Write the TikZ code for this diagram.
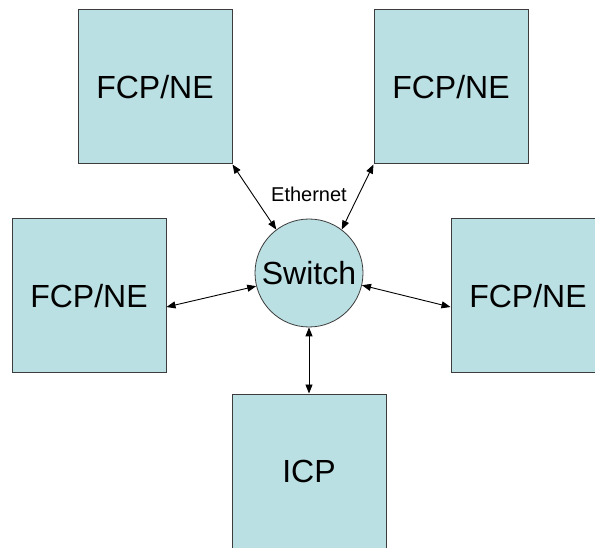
\documentclass[tikz,border=0pt]{standalone}
\usepackage{fontspec}
\setmainfont{Liberation Sans}
\usetikzlibrary{arrows.meta}
\definecolor{boxfill}{RGB}{187,224,227}
\definecolor{boxline}{RGB}{60,60,60}
\tikzset{
  unit/.style={draw=boxline, line width=1pt, fill=boxfill, rectangle, minimum width=154pt, minimum height=154pt, inner sep=0pt, font=\fontsize{32}{38}\selectfont},
  hub/.style={draw=boxline, line width=0.8pt, fill=boxfill, circle, minimum size=108pt, inner sep=0pt, font=\fontsize{32}{38}\selectfont},
  link/.style={line width=0.9pt, {Triangle[length=9pt,width=7pt]}-{Triangle[length=9pt,width=7pt]}},
}
\begin{document}
\begin{tikzpicture}[x=1pt,y=-1pt]
\useasboundingbox (0,0) rectangle (595,548);
\clip (0,0) rectangle (595,548);
\fill[white] (0,0) rectangle (595,548);
\node[unit] (tl) at (155,87) {FCP/NE};
\node[unit] (tr) at (451,87) {FCP/NE};
\node[unit] (l) at (89,296) {FCP/NE};
\node[unit] (r) at (528,296) {FCP/NE};
\node[unit] (b) at (309,471) {ICP};
\node[hub] (sw) at (309,273) {Switch};
\node[font=\fontsize{20}{24}\selectfont] (eth) at (309,194) {Ethernet};
\draw[link] (tl.south east) -- (sw.127);
\draw[link] (tr.south west) -- (sw.53);
\draw[link] ([yshift=-11pt]l.east) -- (sw.194);
\draw[link] (sw.347) -- ([yshift=-11pt]r.west);
\draw[link] (sw.south) -- (b.north);
\end{tikzpicture}
\end{document}
